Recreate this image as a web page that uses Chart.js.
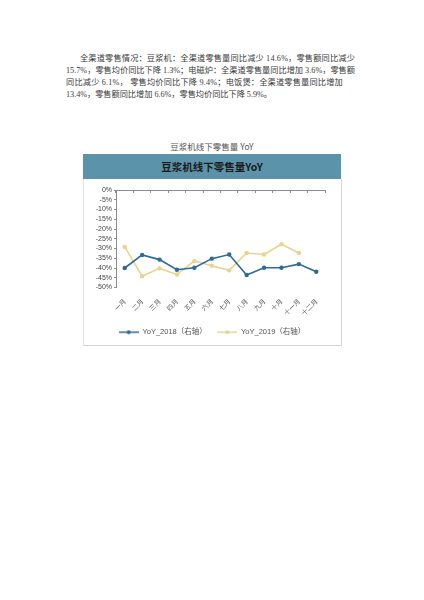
<!DOCTYPE html>
<html>
<head>
<meta charset="utf-8">
<script src="https://cdn.jsdelivr.net/npm/chart.js@4.4.0/dist/chart.umd.min.js"></script>
<style>
  html, body { margin: 0; padding: 0; background: #fff; }
  body { width: 424px; height: 600px; position: relative; overflow: hidden;
         font-family: "Noto Sans CJK SC", "Liberation Sans", sans-serif; }
  .tl { position: absolute; font-family: "Liberation Serif", "Noto Sans CJK SC", serif;
        font-size: 8.2px; line-height: 12px; height: 12px; color: #3a3a3a;
        white-space: nowrap; width: 400px; }
  .tl span { display: inline-block; white-space: nowrap; }
  #title { position: absolute; left: 83px; width: 258px; top: 140px; text-align: center;
           font-size: 8.5px; color: #555; line-height: 12px; }
  #header { position: absolute; left: 83px; top: 154px; width: 258px; height: 25px; background: #5b93aa;
            color: #1b1b1b; font-weight: bold; font-size: 10.5px; line-height: 25px; text-align: center; }
  #box { position: absolute; left: 83px; top: 179px; width: 257px; height: 166px;
         border-left: 1px solid #e2e2e2; border-right: 1px solid #d6d6d6; border-bottom: 1px solid #d6d6d6; }
  #wrap { position: absolute; left: 83px; top: 179px; width: 258px; height: 167px; }
</style>
</head>
<body>
<div class="tl" data-w="275" style="left:80px; top:53px;"><span>全渠道零售情况：豆浆机：全渠道零售量同比减少 14.6%，零售额同比减少</span></div>
<div class="tl" data-w="289" style="left:66px; top:65px;"><span>15.7%，零售均价同比下降 1.3%；电磁炉：全渠道零售量同比增加 3.6%，零售额</span></div>
<div class="tl" data-w="277" style="left:66px; top:77px;"><span>同比减少 6.1%， 零售均价同比下降 9.4%；电饭煲：全渠道零售量同比增加</span></div>
<div class="tl" data-w="206" style="left:66px; top:89px;"><span>13.4%，零售额同比增加 6.6%，零售均价同比下降 5.9%。</span></div>

<div id="title">豆浆机线下零售量 YoY</div>
<div id="header">豆浆机线下零售量YoY</div>
<div id="box"></div>
<div id="wrap"><canvas id="c"></canvas></div>

<script>
// fit each paragraph line to its measured width in the reference
document.querySelectorAll('.tl').forEach(el => {
  const span = el.querySelector('span');
  const target = parseFloat(el.dataset.w);
  const n = [...span.textContent].length;
  let ls = 0;
  for (let k = 0; k < 3; k++) {
    const w = span.getBoundingClientRect().width;
    ls += (target - w) / n;
    span.style.letterSpacing = ls + 'px';
  }
});

const months = ['一月','二月','三月','四月','五月','六月','七月','八月','九月','十月','十一月','十二月'];
const yoy2018 = [-40.0, -33.3, -35.7, -40.9, -39.9, -35.2, -33.1, -43.6, -39.9, -39.9, -38.0, -41.9];
const yoy2019 = [-29.2, -44.2, -40.2, -43.3, -36.4, -38.8, -41.2, -32.3, -33.1, -27.8, -32.3, null];
const seriesNames = ['YoY_2018（右轴）', 'YoY_2019（右轴）'];
const seriesColors = ['#2e6a96', '#e6d48f'];
const yMin = -50, yMax = 0, yStep = 5;

function legendIcon(color) {
  const c = document.createElement('canvas');
  c.width = 20; c.height = 6;
  const g = c.getContext('2d');
  g.strokeStyle = color; g.lineWidth = 1.5;
  g.beginPath(); g.moveTo(0, 3); g.lineTo(20, 3); g.stroke();
  g.fillStyle = color;
  g.beginPath(); g.arc(10, 3, 2, 0, Math.PI * 2); g.fill();
  return c;
}
const icons = seriesColors.map(legendIcon);

const latin = '"Liberation Sans", Arial, "Noto Sans CJK SC", sans-serif';

new Chart(document.getElementById('c'), {
  type: 'line',
  data: {
    labels: months,
    datasets: [
      { label: seriesNames[0], data: yoy2018, borderColor: seriesColors[0], backgroundColor: seriesColors[0],
        borderWidth: 1.6, pointRadius: 2.2, pointBorderWidth: 0, pointBackgroundColor: seriesColors[0], tension: 0 },
      { label: seriesNames[1], data: yoy2019, borderColor: seriesColors[1], backgroundColor: seriesColors[1],
        borderWidth: 1.6, pointRadius: 2.2, pointBorderWidth: 0, pointBackgroundColor: seriesColors[1], tension: 0 }
    ]
  },
  options: {
    responsive: true,
    maintainAspectRatio: false,
    animation: false,
    layout: { padding: { top: 11, right: 0, bottom: 0, left: 0 } },
    plugins: {
      tooltip: { enabled: false },
      legend: {
        position: 'bottom',
        labels: {
          usePointStyle: true,
          pointStyleWidth: 20,
          padding: 10.5,
          color: '#555',
          font: { size: 7.5, family: latin },
          generateLabels(chart) {
            const items = Chart.defaults.plugins.legend.labels.generateLabels(chart);
            items.forEach((it, i) => { it.pointStyle = icons[i]; });
            return items;
          }
        }
      }
    },
    scales: {
      x: {
        type: 'category',
        position: 'bottom',
        offset: true,
        border: { display: false },
        grid: { display: false },
        ticks: { autoSkip: false, minRotation: 45, maxRotation: 45, padding: 2,
                 color: '#555', font: { size: 6.5, family: '"Noto Sans CJK SC", sans-serif' } },
        afterFit(scale) { scale.height = 30.5; }
      },
      x2: {
        type: 'category',
        position: 'top',
        labels: months,
        offset: true,
        border: { display: true, color: '#8c8c8c', width: 1 },
        grid: { offset: true, drawOnChartArea: false, drawTicks: true, tickLength: -3, color: '#8c8c8c' },
        ticks: { display: false },
        afterFit(scale) { scale.height = 0; }
      },
      y: {
        min: yMin, max: yMax,
        border: { display: true, color: '#8c8c8c', width: 1 },
        grid: { drawOnChartArea: false, drawTicks: true, tickLength: 2, color: '#8c8c8c' },
        ticks: { stepSize: yStep, autoSkip: false, padding: 2, color: '#444',
                 font: { size: 7, family: latin },
                 callback: (v) => v + '%' },
        afterFit(scale) { scale.width = 33; }
      },
      yRightSpace: {
        position: 'right',
        min: yMin, max: yMax,
        border: { display: false },
        grid: { display: false },
        ticks: { display: false },
        afterFit(scale) { scale.width = 16; }
      }
    }
  }
});
</script>
</body>
</html>
